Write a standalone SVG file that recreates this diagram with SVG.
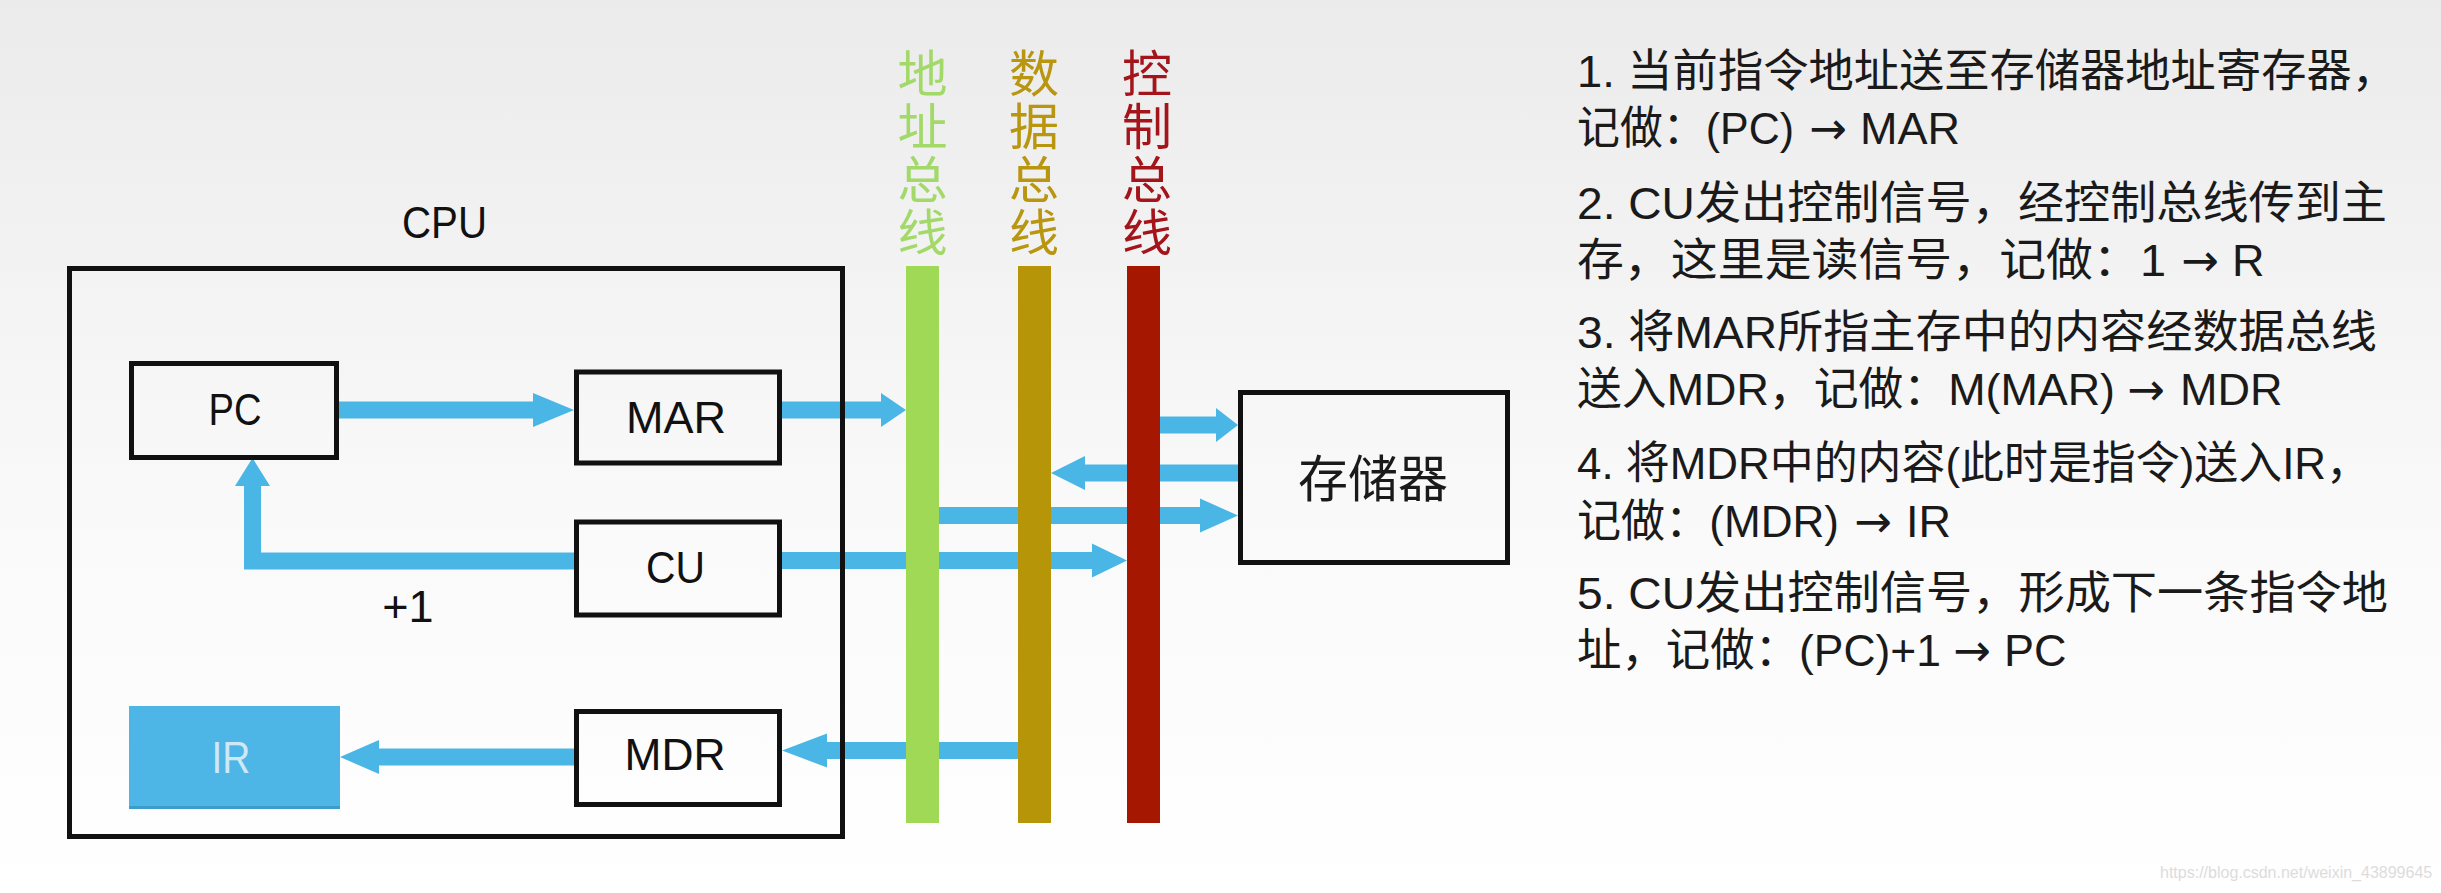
<svg xmlns="http://www.w3.org/2000/svg" width="2441" height="893" viewBox="0 0 2441 893">
<defs>
<linearGradient id="bg" x1="0" y1="0" x2="0" y2="1">
<stop offset="0" stop-color="#ebebeb"/>
<stop offset="0.55" stop-color="#f9f9f9"/>
<stop offset="1" stop-color="#ffffff"/>
</linearGradient>
<style>
.box{fill:none;stroke:#111;stroke-width:5}
.lbl{font-family:"Liberation Sans","Noto Sans CJK SC",sans-serif;font-size:45px;fill:#111;text-anchor:middle}
.arrow{fill:#4ab6e6}
.bus-label{font-family:"Noto Sans CJK SC",sans-serif;font-size:50px;writing-mode:vertical-rl;letter-spacing:3px}
.note{font-family:"Liberation Sans","Noto Sans CJK SC",sans-serif;font-size:45px;fill:#1a1a1a}
.ar{font-family:"DejaVu Sans",sans-serif;font-size:45px;fill:#1a1a1a}
</style>
</defs>
<rect x="0" y="0" width="2441" height="893" fill="url(#bg)"/>

<g id="connectors">
<polygon class="arrow" points="339,401.5 533,401.5 533,393 574,410 533,427 533,418.5 339,418.5"/>
<polygon class="arrow" points="782,401.5 881,401.5 881,393 906,410 881,427 881,418.5 782,418.5"/>
<polygon class="arrow" points="574,552.5 261,552.5 261,486 270,486 252.5,458 235,486 244,486 244,569.5 574,569.5"/>
<polygon class="arrow" points="782,552 1092,552 1092,543.5 1127,560.5 1092,577.5 1092,569 782,569"/>
<polygon class="arrow" points="1150,416.5 1216,416.5 1216,408 1238,425 1216,442 1216,433.5 1150,433.5"/>
<polygon class="arrow" points="1240,464.5 1085,464.5 1085,456 1051,473 1085,490 1085,481.5 1240,481.5"/>
<polygon class="arrow" points="930,507 1200,507 1200,498.5 1238,515.5 1200,532.5 1200,524 930,524"/>
<polygon class="arrow" points="1030,742 827,742 827,733.5 782,750.5 827,767.5 827,759 1030,759"/>
<polygon class="arrow" points="574,748.5 379,748.5 379,740 340,757 379,774 379,765.5 574,765.5"/>
</g>

<g id="address-bus">
<rect x="906" y="266" width="33" height="557" fill="#9fd955"/>
<text class="bus-label" x="922.5" y="48" fill="#a2d969">地址总线</text>
</g>
<g id="data-bus">
<rect x="1018" y="266" width="33" height="557" fill="#b69508"/>
<text class="bus-label" x="1034" y="48" fill="#b8960f">数据总线</text>
</g>
<g id="control-bus">
<rect x="1127" y="266" width="33" height="557" fill="#a51700"/>
<text class="bus-label" x="1147" y="48" fill="#a3151b">控制总线</text>
</g>

<g id="cpu">
<rect class="box" x="69.5" y="268.5" width="773" height="568"/>
<text class="lbl" x="444.5" y="238" textLength="85" lengthAdjust="spacingAndGlyphs">CPU</text>
</g>
<g id="pc">
<rect class="box" x="131.5" y="363.5" width="205" height="94"/>
<text class="lbl" x="235" y="425" textLength="53" lengthAdjust="spacingAndGlyphs">PC</text>
</g>
<g id="mar">
<rect class="box" x="576.5" y="372" width="203" height="91"/>
<text class="lbl" x="676" y="433" textLength="100" lengthAdjust="spacingAndGlyphs">MAR</text>
</g>
<g id="cu">
<rect class="box" x="576.5" y="522" width="203" height="93"/>
<text class="lbl" x="675.5" y="583" textLength="59" lengthAdjust="spacingAndGlyphs">CU</text>
</g>
<g id="plus-one">
<text class="lbl" x="408" y="622">+1</text>
</g>
<g id="ir">
<rect x="129" y="706" width="211" height="103" fill="#4db6e6"/>
<rect x="129" y="806" width="211" height="3" fill="#3c9ccc"/>
<text class="lbl" x="231" y="773" textLength="39" lengthAdjust="spacingAndGlyphs" style="fill:#cfe8f5">IR</text>
</g>
<g id="mdr">
<rect class="box" x="576.5" y="711.5" width="203" height="93"/>
<text class="lbl" x="675" y="770" textLength="101" lengthAdjust="spacingAndGlyphs">MDR</text>
</g>
<g id="memory">
<rect class="box" x="1240.5" y="392.5" width="267" height="170"/>
<text x="1373" y="497" style="font-family:'Noto Sans CJK SC',sans-serif;font-size:50px;fill:#1a1a1a;text-anchor:middle">存储器</text>
</g>

<g id="notes">
<text class="note" x="1577" y="87" textLength="820" lengthAdjust="spacingAndGlyphs">1. 当前指令地址送至存储器地址寄存器，</text>
<text class="note" x="1577" y="144" textLength="217" lengthAdjust="spacingAndGlyphs">记做：(PC)</text>
<text class="ar" x="1809" y="144">→</text>
<text class="note" x="1860" y="144">MAR</text>

<text class="note" x="1577" y="219" textLength="810" lengthAdjust="spacingAndGlyphs">2. CU发出控制信号，经控制总线传到主</text>
<text class="note" x="1577" y="276" textLength="589" lengthAdjust="spacingAndGlyphs">存，这里是读信号，记做：1</text>
<text class="ar" x="2181" y="276">→</text>
<text class="note" x="2232" y="276">R</text>

<text class="note" x="1577" y="348" textLength="800" lengthAdjust="spacingAndGlyphs">3. 将MAR所指主存中的内容经数据总线</text>
<text class="note" x="1577" y="405" textLength="538" lengthAdjust="spacingAndGlyphs">送入MDR，记做：M(MAR)</text>
<text class="ar" x="2127" y="405">→</text>
<text class="note" x="2180" y="405">MDR</text>

<text class="note" x="1577" y="479" textLength="793" lengthAdjust="spacingAndGlyphs">4. 将MDR中的内容(此时是指令)送入IR，</text>
<text class="note" x="1577" y="537" textLength="262" lengthAdjust="spacingAndGlyphs">记做：(MDR)</text>
<text class="ar" x="1854" y="537">→</text>
<text class="note" x="1906" y="537">IR</text>

<text class="note" x="1577" y="609" textLength="811" lengthAdjust="spacingAndGlyphs">5. CU发出控制信号，形成下一条指令地</text>
<text class="note" x="1577" y="666" textLength="364" lengthAdjust="spacingAndGlyphs">址，记做：(PC)+1</text>
<text class="ar" x="1953" y="666">→</text>
<text class="note" x="2004" y="666">PC</text>
</g>
<g id="watermark">
<text x="2160" y="878" style="font-family:'Liberation Sans',sans-serif;font-size:16px;fill:#dcdcdc">https://blog.csdn.net/weixin_43899645</text>
</g>
</svg>
